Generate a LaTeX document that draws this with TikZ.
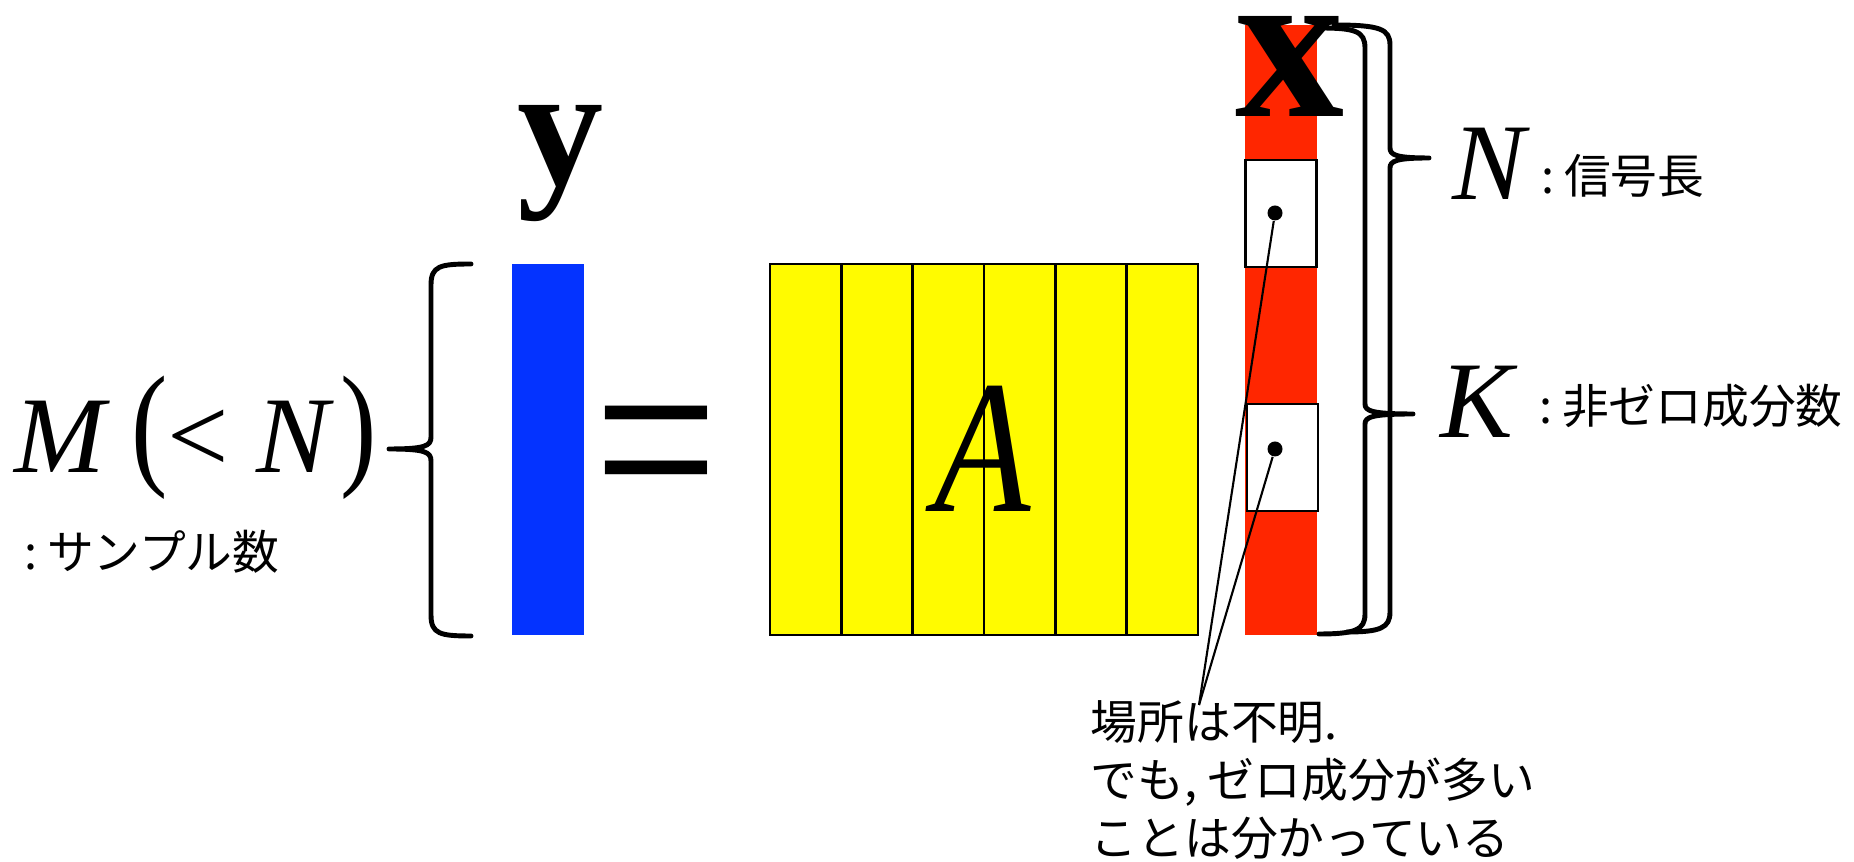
\documentclass[tikz,border=0pt]{standalone}
\usepackage{fontspec}
\setmainfont{Liberation Serif}
\newfontfamily\jpfont{Noto Sans CJK JP}
\usetikzlibrary{positioning}

\definecolor{vecblue}{HTML}{0433FF}
\definecolor{matyellow}{HTML}{FFFB00}
\definecolor{vecred}{HTML}{FF2600}

\begin{document}
\begin{tikzpicture}[
    x=0.01cm, y=-0.01cm,
    serif/.style={inner sep=0pt, font=\fontsize{31pt}{37pt}\selectfont\itshape},
    jp/.style={inner sep=0pt, anchor=base west, font=\fontsize{13.3pt}{16pt}\selectfont\jpfont},
    bar/.style={inner sep=0pt, minimum width=0.71cm, minimum height=3.71cm},
    col/.style={draw, line width=0.7pt, fill=matyellow, inner sep=0pt, minimum width=0.7133cm, minimum height=3.71cm},
    zbox/.style={draw, line width=0.6pt, fill=white, inner sep=0pt, minimum width=0.71cm, minimum height=1.07cm},
    spot/.style={circle, fill, inner sep=0pt, minimum size=0.15cm},
    brc/.style={line width=1.4pt, line cap=round, line join=round}
  ]
  \useasboundingbox (0,0) rectangle (1854,862);

  % Vettore y
  \node[bar, fill=vecblue] (ybar) at (548,449.5) {};
  \node[inner sep=0pt, anchor=base, font=\fontsize{49pt}{58pt}\selectfont\bfseries] (ylbl) at (561,185) {y};
  \node[inner sep=0pt, font=\fontsize{52pt}{60pt}\selectfont] (eq) at (656,469) {\scalebox{1.2}[1.5]{=}};

  % Matrice A
  \foreach \i in {0,...,5}
    \node[col] (col\i) at ({805.67+71.33*\i},449.5) {};
  \node[inner sep=0pt, anchor=base, font=\fontsize{54pt}{64pt}\selectfont\itshape] (albl) at (983,512) {\scalebox{0.83}[1]{A}};

  % Vettore x
  \node[bar, minimum height=6.1cm, fill=vecred] (xbar) at (1281,330) {};
  \node[zbox] (zb1) at (1281,213.5) {};
  \node[zbox] (zb2) at (1282.5,457.5) {};
  \node[spot] (d1) at (1275,213) {};
  \node[spot] (d2) at (1275,449) {};

  % Parentesi graffe
  \draw[brc] (471,264) .. controls (440,264) and (431,266) .. (431,285) -- (431,437)
    .. controls (431,446) and (425,449) .. (389,449) .. controls (425,449) and (431,452) .. (431,461)
    -- (431,615) .. controls (431,634) and (440,636) .. (471,636);
  \draw[brc] (1319,28) .. controls (1355,28) and (1365,31) .. (1365,48) -- (1365,404)
    .. controls (1365,411) and (1372,414) .. (1413,414) .. controls (1372,414) and (1365,417) .. (1365,424)
    -- (1365,614) .. controls (1365,630) and (1355,634) .. (1319,634);
  \draw[brc] (1334,25) .. controls (1380,25) and (1390,29) .. (1390,45) -- (1390,148)
    .. controls (1390,155) and (1396,158) .. (1429,158) .. controls (1396,158) and (1390,161) .. (1390,168)
    -- (1390,612) .. controls (1390,628) and (1380,632) .. (1347,632);
  \node[inner sep=0pt, anchor=base, font=\fontsize{62pt}{74pt}\selectfont\bfseries] (xlbl) at (1290,117) {x};

  % Etichette
  \node[serif, anchor=base west] (mlbl) at (14,473)
    {M\hspace{0.24em}\raisebox{0.02em}{\scalebox{1}[1.25]{\upshape(}}{\upshape<}\hspace{0.25em}N\hspace{0.1em}\raisebox{0.02em}{\scalebox{1}[1.25]{\upshape)}}};
  \node[jp] (mtxt) at (24,570) {:\hspace{0.2em}サンプル数};
  \node[serif, anchor=base] (nlbl) at (1489,200) {N};
  \node[jp] (ntxt) at (1541,194) {:\hspace{0.2em}信号長};
  \node[serif, anchor=base] (klbl) at (1477,438) {K};
  \node[jp] (ktxt) at (1539,424) {:\hspace{0.2em}非ゼロ成分数};

  % Nota
  \coordinate (tip) at (1199,705);
  \draw[line width=0.6pt] (d1) -- (tip);
  \draw[line width=0.6pt] (d2) -- (tip);
  \node[jp] (note1) at (1090,740) {場所は不明.};
  \node[jp] (note2) at (1090,798) {でも, ゼロ成分が多い};
  \node[jp] (note3) at (1090,856) {ことは分かっている};
\end{tikzpicture}
\end{document}
